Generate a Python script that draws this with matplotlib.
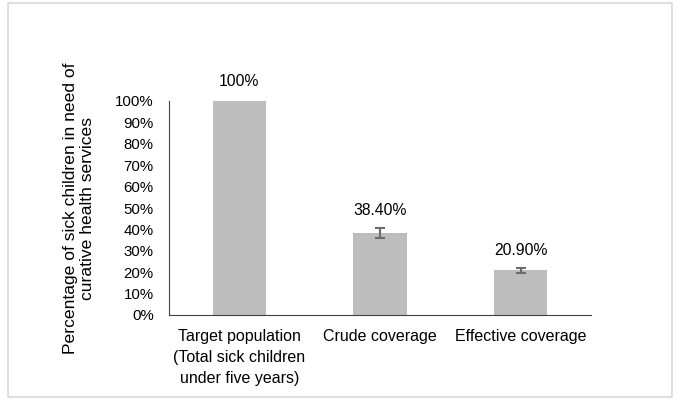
import matplotlib.pyplot as plt
from matplotlib.patches import Rectangle

# data
categories = ['Target population\n(Total sick children\nunder five years)',
              'Crude coverage', 'Effective coverage']
values = [100, 38.4, 20.9]
errors = [0, 2.2, 1.1]
value_labels = ['100%', '38.40%', '20.90%']
yticks = list(range(0, 101, 10))

plt.rcParams['font.family'] = ['Liberation Sans', 'DejaVu Sans']

fig = plt.figure(figsize=(6.8, 4.05), dpi=100)
ax = fig.add_axes([169 / 680, 1 - 315 / 405, 422 / 680, 214 / 405])

x = range(len(categories))
ax.bar(x, values, width=0.38, color='#bdbdbd', zorder=2)
ax.errorbar([1, 2], values[1:], yerr=errors[1:], fmt='none',
            ecolor='#6b6b6b', elinewidth=1.5, capsize=3.5, capthick=1.5, zorder=3)

for i, (v, lab) in enumerate(zip(values, value_labels)):
    ax.annotate(lab, (i, v + errors[i]), xytext=(0, 7 if errors[i] else 8.5),
                textcoords='offset points', ha='center', va='bottom', fontsize=11.3)

ax.set_xlim(-0.5, 2.5)
ax.set_ylim(0, 100)
ax.set_yticks(yticks)
ax.set_yticklabels([f'{t}%' for t in yticks], fontsize=10.8)
ax.set_xticks(list(x))
ax.set_xticklabels(categories, fontsize=11.5, linespacing=1.5)
ax.tick_params(axis='both', length=0)
ax.tick_params(axis='x', pad=10)
ax.tick_params(axis='y', pad=11)

for s in ['top', 'right']:
    ax.spines[s].set_visible(False)
ax.spines['left'].set_color('#404040')
ax.spines['bottom'].set_color('#404040')

ax.set_ylabel('Percentage of sick children in need of\ncurative health services',
              fontsize=12.6, linespacing=1.15)
ax.yaxis.set_label_coords(-0.175, 0.5)

# light border around the chart area
fig.patches.append(Rectangle((8 / 680, 1 - 397 / 405), 664 / 680, 394 / 405,
                             transform=fig.transFigure, fill=False,
                             edgecolor='#d9d9d9', linewidth=1.2))

fig.savefig('out.png', dpi=100)
